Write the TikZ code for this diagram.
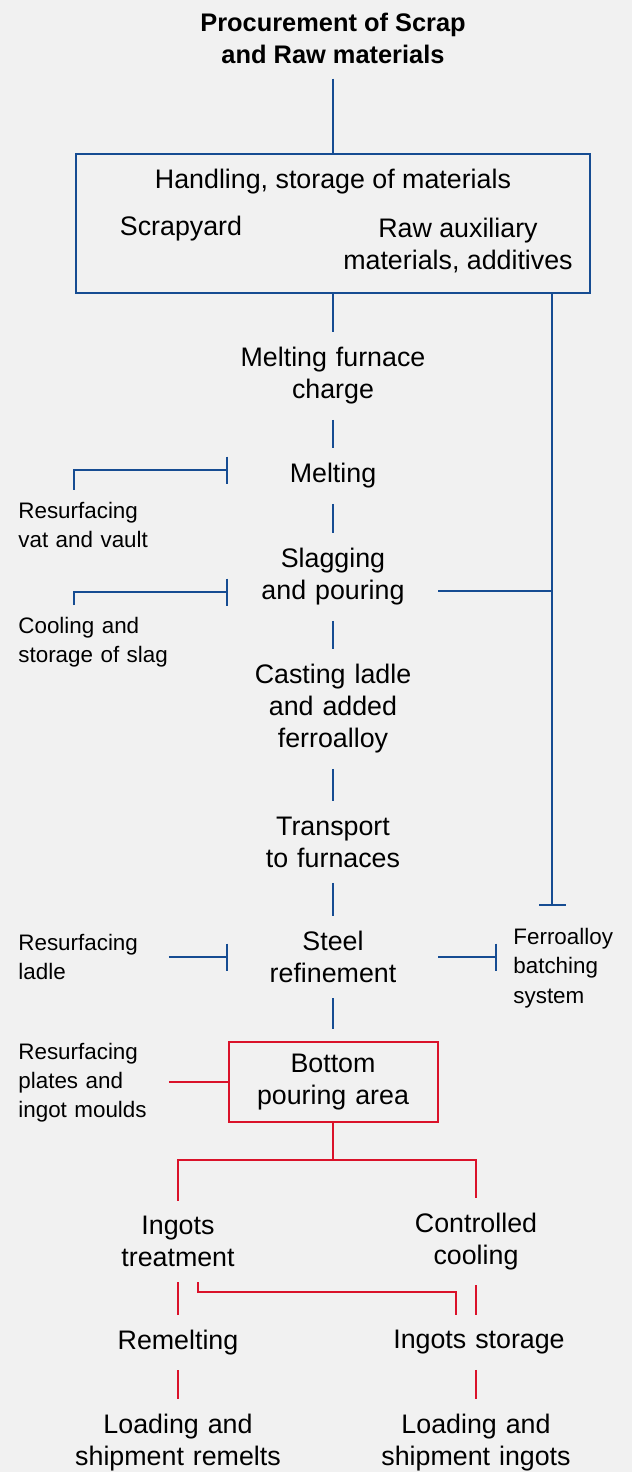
\documentclass[tikz,border=0pt]{standalone}
\usepackage{fontspec}
\setmainfont{Liberation Sans}
\usepackage{tikz}
\definecolor{myblue}{RGB}{22,76,146}
\definecolor{myred}{RGB}{218,18,42}
\definecolor{mygrey}{RGB}{241,241,241}
\usetikzlibrary{calc,arrows.meta,positioning}
\tikzstyle{stage}=[text width=105pt,align=center,inner xsep=0pt,inner ysep=7.5pt,font=\fontsize{13.4}{16}\selectfont]
\tikzstyle{boxtext}=[align=center,inner sep=0pt,font=\fontsize{13.4}{16}\selectfont]
\tikzstyle{headline}=[align=center,inner xsep=0pt,inner ysep=7.5pt,font=\fontsize{12.7}{16}\selectfont\bfseries]
\tikzstyle{side}=[anchor=west,text width=75pt,align=left,inner xsep=0pt,inner ysep=6pt,font=\fontsize{11.2}{14.6}\selectfont]
\tikzstyle{link}=[draw=myblue,line width=1pt]
\tikzstyle{redlink}=[draw=myred,line width=1pt]
\tikzstyle{barend}=[-{Bar[width=13.5pt]}]

\begin{document}
\begin{tikzpicture}[x=0.5pt,y=-0.5pt]
\fill[mygrey] (0,0) rectangle (632,1472);
\useasboundingbox (0,0) rectangle (632,1472);
\draw (333,38) node [headline] (proc) {Procurement of Scrap\\and Raw materials};
\draw (333,223.5) node [draw=myblue,line width=1pt,minimum width=257pt,minimum height=69.5pt,inner sep=0pt] (store) {};
\draw (333,182) node [boxtext] (handling) {Handling, storage of materials};
\draw (181,229) node [boxtext] (scrapyard) {Scrapyard};
\draw (458,245.5) node [boxtext] (auxiliary) {Raw auxiliary\\materials, additives};
\draw (333,376) node [stage] (charge) {Melting furnace\\charge};
\draw (333,476) node [stage] (melt) {Melting};
\draw (333,577) node [stage] (slag) {Slagging\\and pouring};
\draw (333,709) node [stage] (cast) {Casting ladle\\and added\\ferroalloy};
\draw (333,842) node [stage] (transport) {Transport\\to furnaces};
\draw (333,957) node [stage] (refine) {Steel\\refinement};
\draw (333,1082.4) node [stage,draw=myred,line width=1pt,inner ysep=4pt,minimum height=40pt,text width=104.5pt] (pour) {Bottom\\pouring area};
\draw (18,525) node [side] (vat) {Resurfacing\\vat and vault};
\draw (18,642.5) node [side] (slagstore) {Cooling and\\storage of slag};
\draw (18,957) node [side] (ladle) {Resurfacing\\ladle};
\draw (18,1082.4) node [side] (moulds) {Resurfacing\\plates and\\ingot moulds};
\draw (497,968) node [side,text width=,inner xsep=8pt] (ferro) {Ferroalloy\\batching\\system};
\draw (178,1241.5) node [stage] (treat) {Ingots\\treatment};
\draw (476,1241.5) node [stage] (ccool) {Controlled\\cooling};
\draw (178,1342.5) node [stage] (remelt) {Remelting};
\draw (479,1342.5) node [stage] (istore) {Ingots storage};
\draw (178,1443) node [stage] (shipr) {Loading and\\shipment remelts};
\draw (476,1443) node [stage] (shipi) {Loading and\\shipment ingots};
\coordinate (feed) at (552,906);
\coordinate (fork) at (333,1159.5);
\draw[link] (proc.south) -- (store.north);
\draw[link] (store.south) -- (charge.north);
\draw[link] (charge.south) -- (melt.north);
\draw[link] (melt.south) -- (slag.north);
\draw[link] (slag.south) -- (cast.north);
\draw[link] (cast.south) -- (transport.north);
\draw[link] (transport.south) -- (refine.north);
\draw[link,shorten >=6pt] (refine.south) -- (pour.north);
\draw[link,barend] (store.south -| feed) -- (feed);
\draw[link] ([yshift=-7pt]slag.east) -- ([yshift=-7pt]slag.east -| feed);
\draw[link,barend] ([xshift=28pt]vat.north west) |- ([yshift=3pt]melt.west);
\draw[link,barend] ([xshift=28pt]slagstore.north west) |- ([yshift=-7.5pt]slag.west);
\draw[link,barend] (ladle.east) -- (refine.west);
\draw[link,barend] (refine.east) -- (refine.east -| ferro.west);
\draw[redlink] (moulds.east) -- (pour.west);
\draw[redlink] (pour.south) -- (fork);
\draw[redlink] (treat.north) |- (fork) -| (ccool.north);
\draw[redlink] (treat.south) -- (remelt.north);
\draw[redlink] (ccool.south) -- (istore.north -| ccool.south);
\draw[redlink] ([xshift=10pt]treat.south) -- ++(0,10) -| ([xshift=-11.5pt]istore.north);
\draw[redlink] (remelt.south) -- (shipr.north);
\draw[redlink] (istore.south -| shipi.north) -- (shipi.north);
\end{tikzpicture}
\end{document}
